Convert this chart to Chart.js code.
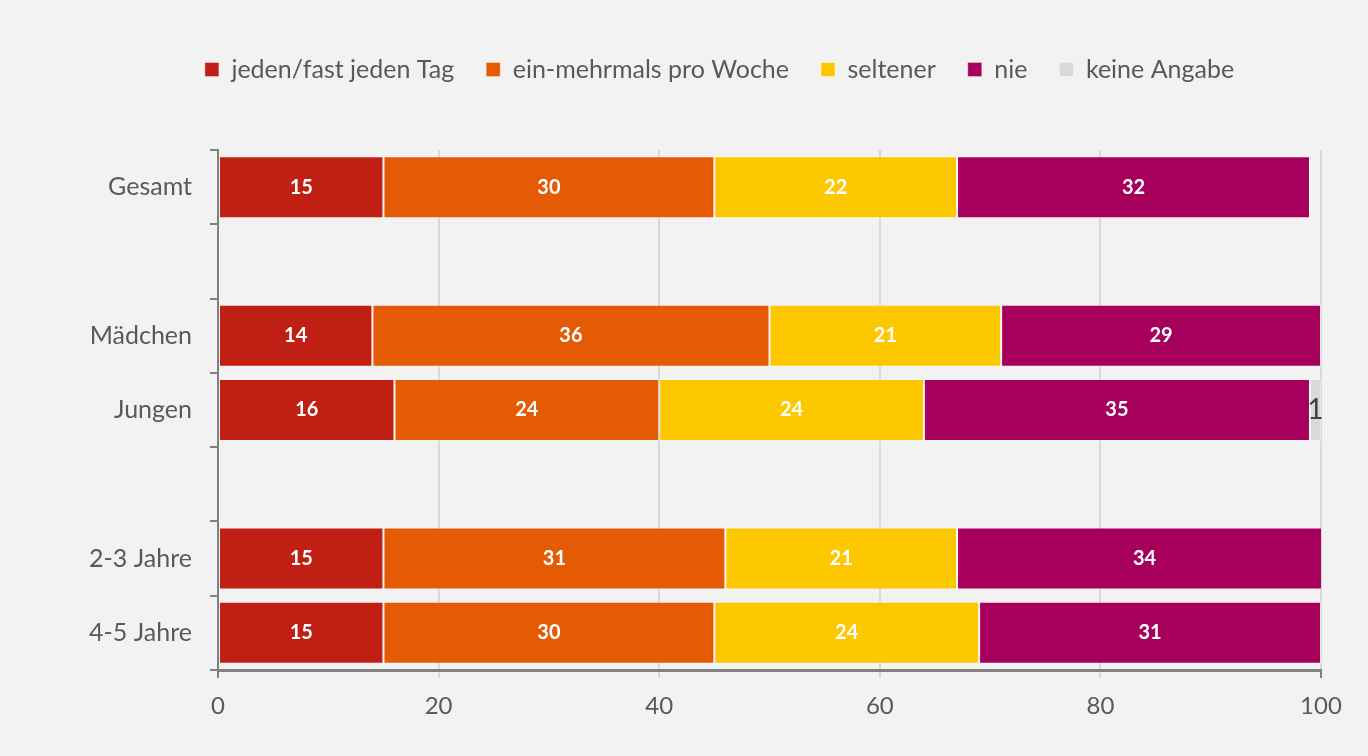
<!DOCTYPE html>
<html>
<head>
<meta charset="utf-8">
<script src="https://cdn.jsdelivr.net/npm/chart.js@4.4.1/dist/chart.umd.min.js"></script>
<style>
  html, body { margin: 0; padding: 0; background: #F2F2F2; }
  #wrap { width: 1368px; height: 756px; position: relative; }
</style>
</head>
<body>
<div id="wrap"><canvas id="c" width="1368" height="756"></canvas></div>
<script>
// ---- data ----
const categories = ['Gesamt', '', 'Mädchen', 'Jungen', '', '2-3 Jahre', '4-5 Jahre'];
const seriesNames = ['jeden/fast jeden Tag', 'ein-mehrmals pro Woche', 'seltener', 'nie', 'keine Angabe'];
const jedenTag   = [15, null, 14, 16, null, 15, 15];
const mehrmals   = [30, null, 36, 24, null, 31, 30];
const seltener   = [22, null, 21, 24, null, 21, 24];
const nie        = [32, null, 29, 35, null, 34, 31];
const keineAngabe= [0,  null, 0,  1,  null, 0,  0];
const xTicks = [0, 20, 40, 60, 80, 100];

const colors = ['#C01F14', '#E55B05', '#FDC800', '#A6005C', '#D9D9D9'];
const FONT = 'Lato, "Open Sans", sans-serif';

const seriesValues = [jedenTag, mehrmals, seltener, nie, keineAngabe];

const bgPlugin = {
  id: 'bg',
  beforeDraw(chart) {
    const ctx = chart.ctx;
    ctx.save();
    ctx.fillStyle = '#F2F2F2';
    ctx.fillRect(0, 0, chart.width, chart.height);
    ctx.restore();
  }
};

// shift the centred legend a little to the right, as in the original
const legendShift = {
  id: 'legendShift',
  afterLayout(chart) {
    if (chart.legend) chart.legend.left += 78;
  }
};

const labelPlugin = {
  id: 'barLabels',
  afterDatasetsDraw(chart) {
    const ctx = chart.ctx;
    chart.data.datasets.forEach((ds, di) => {
      const meta = chart.getDatasetMeta(di);
      meta.data.forEach((el, i) => {
        const v = ds.data[i];
        if (v === null || v === undefined || v <= 0) return;
        const cx = (el.x + el.base) / 2;
        ctx.save();
        ctx.fillStyle = ds.labelColor;
        ctx.font = ds.labelFont;
        ctx.textAlign = 'center';
        ctx.textBaseline = 'middle';
        ctx.fillText(String(v), cx, el.y);
        ctx.restore();
      });
    });
  }
};

const LEFT_PAD = 40;

new Chart(document.getElementById('c'), {
  type: 'bar',
  data: {
    labels: categories,
    datasets: seriesNames.map((name, i) => ({
      label: name,
      data: seriesValues[i],
      backgroundColor: colors[i],
      borderColor: 'rgba(255,255,255,0.35)',
      borderWidth: 1,
      borderSkipped: false,
      barPercentage: 0.835,
      categoryPercentage: 1,
      labelColor: i === 4 ? '#404040' : '#FFFFFF',
      labelFont: i === 4 ? ('28px ' + FONT) : ('bold 20px ' + FONT)
    }))
  },
  options: {
    indexAxis: 'y',
    responsive: false,
    animation: false,
    layout: { padding: { top: 25, left: LEFT_PAD, right: 47, bottom: 0 } },
    plugins: {
      legend: {
        position: 'top',
        align: 'center',
        labels: {
          boxWidth: 14,
          boxHeight: 14,
          padding: 32,
          color: '#595959',
          font: { family: FONT, size: 25 }
        }
      },
      title: {
        display: true,
        text: '',
        weight: 500,
        padding: 0,
        font: { size: 58, lineHeight: 1 }
      },
      tooltip: { enabled: false }
    },
    scales: {
      x: {
        stacked: true,
        min: 0,
        max: 100,
        afterBuildTicks(scale) { scale.ticks = xTicks.map(v => ({ value: v })); },
        ticks: {
          padding: 14,
          color: '#595959',
          font: { family: FONT, size: 24 }
        },
        grid: {
          color: '#D9D9D9',
          lineWidth: 2,
          tickLength: 8,
          tickColor: (ctx) => (ctx.index === 0 || ctx.index === xTicks.length - 1) ? '#808080' : '#D9D9D9'
        },
        border: { display: true, color: '#808080', width: 3 },
        afterFit(scale) { scale.height = 86; }
      },
      y: {
        stacked: true,
        grid: {
          display: true,
          drawOnChartArea: false,
          drawTicks: true,
          tickLength: 8,
          color: '#808080',
          lineWidth: 2,
          offset: true
        },
        border: { display: true, color: '#808080', width: 2 },
        ticks: {
          padding: 18,
          color: '#595959',
          font: { family: FONT, size: 25 }
        },
        afterFit(scale) { scale.width = 218 - LEFT_PAD; }
      }
    }
  },
  plugins: [bgPlugin, legendShift, labelPlugin]
});
</script>
</body>
</html>
